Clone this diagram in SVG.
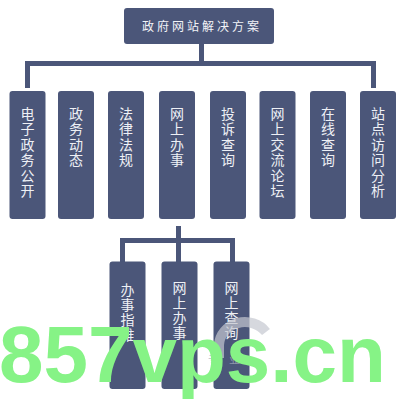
<svg xmlns="http://www.w3.org/2000/svg" width="403" height="400" viewBox="0 0 403 400">
  <style>
    .box { fill: #4b5679; }
    .conn { fill: none; stroke: #4b5679; stroke-width: 5; }
    .lbl { font-family: "Noto Sans CJK SC", "Noto Sans", sans-serif; font-size: 14px; fill: #eef0f5; text-anchor: middle; }
    .title { font-family: "Noto Sans CJK SC", "Noto Sans", sans-serif; font-size: 12px; fill: #f2f3f7; text-anchor: middle; letter-spacing: 3px; }
    .wm { font-family: "Liberation Sans", Arial, sans-serif; font-weight: bold; font-size: 80px; fill: #86f386; }
  </style>
  <rect width="403" height="400" fill="#ffffff"/>
  <g id="connectors">
    <path class="conn" d="M201.5 44 V63.5"/>
    <path class="conn" d="M27.5 88 V63.5 H373.5 V88"/>
    <path class="conn" d="M178.5 226 V262"/>
    <path class="conn" d="M122.5 262 V240.5 H232.5 V262"/>
  </g>
  <g id="root">
    <rect class="box" x="124" y="8" width="150" height="36" rx="3"/>
    <text class="title" x="202" y="30.5">政府网站解决方案</text>
  </g>
  <g id="n1">
    <rect class="box" x="9.5" y="91" width="36" height="128" rx="3"/>
    <text class="lbl" y="118.5"><tspan x="27.5">电</tspan><tspan x="27.5" dy="15.5">子</tspan><tspan x="27.5" dy="15.5">政</tspan><tspan x="27.5" dy="15.5">务</tspan><tspan x="27.5" dy="15.5">公</tspan><tspan x="27.5" dy="15.5">开</tspan></text>
  </g>
  <g id="n2">
    <rect class="box" x="58" y="91" width="36" height="128" rx="3"/>
    <text class="lbl" y="118.5"><tspan x="76">政</tspan><tspan x="76" dy="15.5">务</tspan><tspan x="76" dy="15.5">动</tspan><tspan x="76" dy="15.5">态</tspan></text>
  </g>
  <g id="n3">
    <rect class="box" x="108" y="91" width="36" height="128" rx="3"/>
    <text class="lbl" y="118.5"><tspan x="126">法</tspan><tspan x="126" dy="15.5">律</tspan><tspan x="126" dy="15.5">法</tspan><tspan x="126" dy="15.5">规</tspan></text>
  </g>
  <g id="n4">
    <rect class="box" x="159" y="91" width="36" height="128" rx="3"/>
    <text class="lbl" y="118.5"><tspan x="177">网</tspan><tspan x="177" dy="15.5">上</tspan><tspan x="177" dy="15.5">办</tspan><tspan x="177" dy="15.5">事</tspan></text>
  </g>
  <g id="n5">
    <rect class="box" x="210" y="91" width="36" height="128" rx="3"/>
    <text class="lbl" y="118.5"><tspan x="228">投</tspan><tspan x="228" dy="15.5">诉</tspan><tspan x="228" dy="15.5">查</tspan><tspan x="228" dy="15.5">询</tspan></text>
  </g>
  <g id="n6">
    <rect class="box" x="259.5" y="91" width="36" height="128" rx="3"/>
    <text class="lbl" y="118.5"><tspan x="277.5">网</tspan><tspan x="277.5" dy="15.5">上</tspan><tspan x="277.5" dy="15.5">交</tspan><tspan x="277.5" dy="15.5">流</tspan><tspan x="277.5" dy="15.5">论</tspan><tspan x="277.5" dy="15.5">坛</tspan></text>
  </g>
  <g id="n7">
    <rect class="box" x="310" y="91" width="36" height="128" rx="3"/>
    <text class="lbl" y="118.5"><tspan x="328">在</tspan><tspan x="328" dy="15.5">线</tspan><tspan x="328" dy="15.5">查</tspan><tspan x="328" dy="15.5">询</tspan></text>
  </g>
  <g id="n8">
    <rect class="box" x="360" y="91" width="36" height="128" rx="3"/>
    <text class="lbl" y="118.5"><tspan x="378">站</tspan><tspan x="378" dy="15.5">点</tspan><tspan x="378" dy="15.5">访</tspan><tspan x="378" dy="15.5">问</tspan><tspan x="378" dy="15.5">分</tspan><tspan x="378" dy="15.5">析</tspan></text>
  </g>
  <g id="s1">
    <rect class="box" x="109.5" y="261.5" width="36" height="127.5" rx="3"/>
    <text class="lbl" y="294.5"><tspan x="127.5">办</tspan><tspan x="127.5" dy="15">事</tspan><tspan x="127.5" dy="15">指</tspan><tspan x="127.5" dy="15">难</tspan></text>
  </g>
  <g id="s2">
    <rect class="box" x="161.5" y="261.5" width="36" height="127.5" rx="3"/>
    <text class="lbl" y="293"><tspan x="179.5">网</tspan><tspan x="179.5" dy="15">上</tspan><tspan x="179.5" dy="15">办</tspan><tspan x="179.5" dy="15">事</tspan></text>
  </g>
  <g id="s3">
    <rect class="box" x="213.5" y="261.5" width="36" height="127.5" rx="3"/>
    <text class="lbl" y="293"><tspan x="231.5">网</tspan><tspan x="231.5" dy="15">上</tspan><tspan x="231.5" dy="15">查</tspan><tspan x="231.5" dy="15">询</tspan></text>
  </g>
  <g id="watermark">
    <path d="M219 358 V345 A26 24 0 0 1 266 332" fill="none" stroke="#c4c7d0" stroke-width="10" opacity="0.7"/>
    <text x="208" y="364" font-family="'Noto Sans CJK SC', sans-serif" font-size="11" fill="#a4aabb" opacity="0.75" letter-spacing="10">专业</text>
    <text class="wm" x="-1" y="382">857vps.cn</text>
  </g>
</svg>
